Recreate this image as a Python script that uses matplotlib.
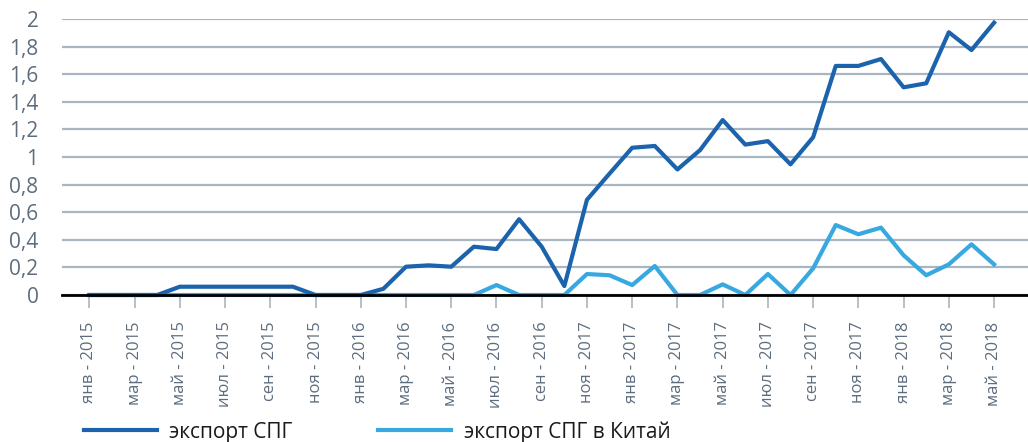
import numpy as np
import matplotlib
matplotlib.use("Agg")
import matplotlib.pyplot as plt

plt.rcParams['font.family'] = ['Open Sans', 'DejaVu Sans']

# экспорт СПГ, помесячно янв 2015 - май 2018
export_lng = [0, 0, 0, 0, 0.06, 0.06, 0.06, 0.06, 0.06, 0.06, 0, 0,
              0, 0.045, 0.205, 0.215, 0.205, 0.35, 0.333, 0.549, 0.35, 0.065, 0.69, 0.88,
              1.067, 1.08, 0.91, 1.05, 1.268, 1.09, 1.115, 0.947, 1.143, 1.66, 1.66, 1.71,
              1.505, 1.534, 1.904, 1.775, 1.973]
# экспорт СПГ в Китай
export_china = [0, 0, 0, 0, 0, 0, 0, 0, 0, 0, 0, 0,
                0, 0, 0, 0, 0, 0, 0.072, 0, 0, 0, 0.152, 0.143,
                0.072, 0.21, 0, 0, 0.077, 0, 0.152, 0, 0.193, 0.507, 0.44, 0.488,
                0.288, 0.143, 0.222, 0.367, 0.222]

# подписи оси x (каждый второй месяц, как на исходнике)
tick_labels = ['янв - 2015', 'мар - 2015', 'май - 2015', 'июл - 2015', 'сен - 2015', 'ноя - 2015',
               'янв - 2016', 'мар - 2016', 'май - 2016', 'июл - 2016', 'сен - 2016', 'ноя - 2017',
               'янв - 2017', 'мар - 2017', 'май - 2017', 'июл - 2017', 'сен - 2017', 'ноя - 2017',
               'янв - 2018', 'мар - 2018', 'май - 2018']

x = np.arange(len(export_lng))

dark = '#1b63ad'
light = '#38a9e0'
txt = '#5d6d7d'

fig = plt.figure(figsize=(10.28, 4.42), dpi=100)
ax = fig.add_axes([62 / 1028, 1 - 295 / 442, 1 - 62 / 1028, 276 / 442])

ax.plot(x, export_lng, color=dark, lw=3.0, label='экспорт СПГ', clip_on=False, zorder=3)
ax.plot(x, export_china, color=light, lw=3.0, label='экспорт СПГ в Китай', clip_on=False, zorder=2)

ax.set_ylim(0, 2)
ax.set_xlim(-1.21, 41.5)
yt = np.arange(0, 2.01, 0.2)
ax.set_yticks(yt)
ax.set_yticklabels([('%g' % round(v, 1)).replace('.', ',') for v in yt], fontsize=15, color=txt)
ax.set_xticks(x[::2])
ax.set_xticklabels(tick_labels, rotation=90, fontsize=12, color=txt)

ax.grid(axis='y', color='#a9b5c1', lw=1.6)
ax.set_axisbelow(True)
for s in ['top', 'right', 'left']:
    ax.spines[s].set_visible(False)
ax.spines['bottom'].set_color('black')
ax.spines['bottom'].set_linewidth(2)
ax.spines['bottom'].set_zorder(4)
ax.tick_params(axis='y', length=0, pad=17)
ax.tick_params(axis='x', length=9, width=1.2, color='#a9b5c1', pad=10)

fig.legend(loc='center left', bbox_to_anchor=(84 / 1028, 10 / 442), ncol=2, frameon=False,
           fontsize=15, handlelength=3.5, handletextpad=0.6, columnspacing=4.1,
           borderpad=0, borderaxespad=0, labelcolor='#1a1a1a')

fig.savefig('out.png', dpi=100)
